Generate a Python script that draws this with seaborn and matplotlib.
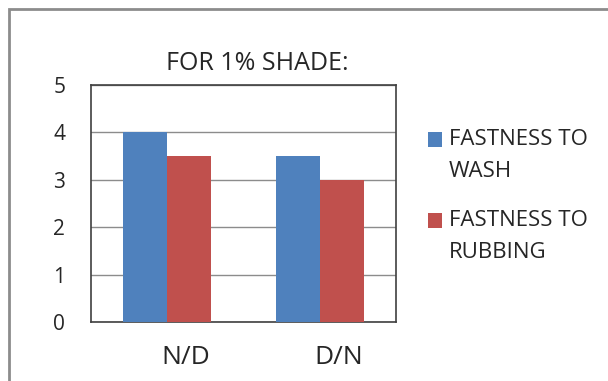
import matplotlib
matplotlib.use("Agg")
import matplotlib.pyplot as plt
import matplotlib.transforms as mtransforms
import seaborn as sns
import pandas as pd
from matplotlib.patches import Rectangle

categories = ["N/D", "D/N"]
series_names = ["FASTNESS TO\nWASH", "FASTNESS TO\nRUBBING"]
wash = [4, 3.5]
rubbing = [3.5, 3]
yticks = [0, 1, 2, 3, 4, 5]
title = "FOR 1% SHADE:"
colors = ["#4F81BD", "#C0504D"]

df = pd.DataFrame({
    "cat": categories * 2,
    "series": [series_names[0]] * 2 + [series_names[1]] * 2,
    "val": wash + rubbing,
})

sns.set_style("white")
plt.rcParams['font.family'] = ['Open Sans', 'DejaVu Sans']

W, H = 608, 381
fig = plt.figure(figsize=(W / 100, H / 100), dpi=100)
ax = fig.add_axes([91 / W, 1 - 322 / H, 305 / W, 237 / H])

sns.barplot(data=df, x="cat", y="val", hue="series", palette=colors,
            width=0.577, ax=ax, saturation=1, legend=False, linewidth=0,
            zorder=3)

ax.set_ylim(0, 5)
ax.set_yticks(yticks)
ax.set_yticklabels([str(t) for t in yticks], fontsize=15)
ax.set_xlim(-0.5, 1.5)
ax.tick_params(axis='x', length=0, labelbottom=False)
ax.tick_params(axis='y', pad=18.5, length=0)
ax.set_xlabel("")
ax.set_ylabel("")
ax.yaxis.grid(True, color="#8c8c8c", linewidth=1, zorder=0)
ax.set_axisbelow(True)
for s in ax.spines.values():
    s.set_color("#404040")
    s.set_linewidth(1.2)
    s.set_visible(True)

# category labels (slightly offset to the right as in the reference)
offset = mtransforms.ScaledTranslation(19 / 100, 0, fig.dpi_scale_trans)
blend = mtransforms.blended_transform_factory(ax.transData, fig.transFigure)
for i, cat in enumerate(categories):
    ax.text(i, 1 - 358 / H, cat, fontsize=19, ha='center', va='center',
            transform=blend + offset)

fig.text(257 / W, 1 - 63 / H, title, fontsize=18, ha='center', va='center')

# legend (manual, handles aligned with first line like the reference)
legend_rows = [(132, 140, 172), (213, 220, 252)]
for (hy, y1, y2), name, c in zip(legend_rows, series_names, colors):
    fig.patches.append(Rectangle((428 / W, 1 - (hy + 15) / H), 14 / W, 15 / H,
                                 transform=fig.transFigure, facecolor=c,
                                 edgecolor='none'))
    l1, l2 = name.split("\n")
    fig.text(449 / W, 1 - y1 / H, l1, fontsize=16, va='center', ha='left')
    fig.text(449 / W, 1 - y2 / H, l2, fontsize=16, va='center', ha='left')

fig.patches.append(Rectangle((9 / W, -0.1), 1.2, 1 - 9 / H + 0.1,
                             transform=fig.transFigure, fill=False,
                             edgecolor="#8c8c8c", linewidth=2))

fig.savefig("out.png", dpi=100)
